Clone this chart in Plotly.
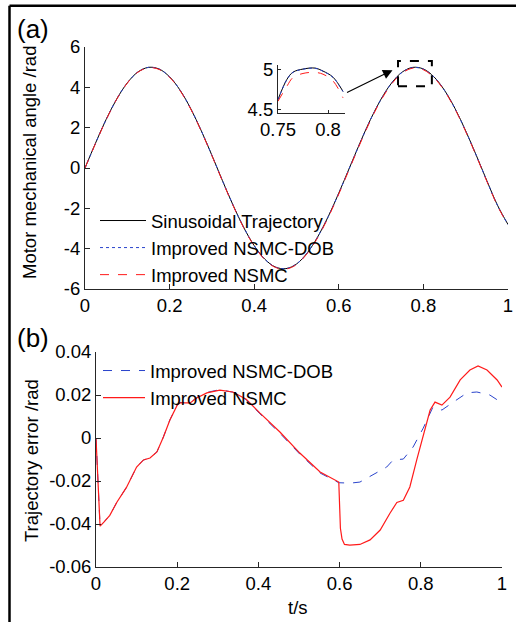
import plotly.graph_objects as go

W, H = 516, 622
def px(x):
    return x / W
def py(y):
    return 1 - y / H

FONT = "Liberation Sans, Arial, sans-serif"
FS = 18.5

# ---------------- panel (a) data ----------------
t_a = [0.0, 0.025, 0.05, 0.075, 0.1, 0.125, 0.15, 0.175, 0.2, 0.225,
       0.25, 0.275, 0.3, 0.325, 0.35, 0.375, 0.4, 0.425, 0.45, 0.475,
       0.5, 0.525, 0.55, 0.575, 0.6, 0.625, 0.65, 0.675, 0.7, 0.725,
       0.75, 0.775, 0.8, 0.825, 0.85, 0.875, 0.9, 0.925, 0.95, 0.975, 1.0]
traj_a = [0.00, 1.24, 2.41, 3.42, 4.22, 4.76, 4.99, 4.91, 4.52, 3.85,
          2.94, 1.84, 0.63, -0.63, -1.84, -2.94, -3.85, -4.52, -4.91, -4.99,
          -4.76, -4.22, -3.42, -2.41, -1.24, 0.00, 1.24, 2.41, 3.42, 4.22,
          4.76, 4.99, 4.91, 4.52, 3.85, 2.94, 1.84, 0.63, -0.63, -1.84, -2.80]
dob_a = [0.00, 1.23, 2.40, 3.42, 4.22, 4.76, 4.99, 4.91, 4.52, 3.85,
         2.94, 1.84, 0.63, -0.63, -1.84, -2.94, -3.85, -4.52, -4.91, -4.99,
         -4.76, -4.22, -3.42, -2.41, -1.25, -0.01, 1.23, 2.40, 3.41, 4.21,
         4.75, 4.98, 4.90, 4.51, 3.84, 2.93, 1.83, 0.62, -0.64, -1.85, -2.81]
nsmc_a = [0.00, 1.22, 2.39, 3.41, 4.21, 4.75, 4.97, 4.89, 4.50, 3.83,
          2.92, 1.82, 0.61, -0.65, -1.86, -2.96, -3.87, -4.54, -4.93, -5.01,
          -4.79, -4.25, -3.46, -2.45, -1.29, -0.05, 1.19, 2.36, 3.37, 4.17,
          4.71, 4.95, 4.87, 4.48, 3.82, 2.91, 1.81, 0.60, -0.66, -1.87, -2.83]

# inset data
t_in = [0.75, 0.759, 0.765, 0.775, 0.787, 0.795, 0.805, 0.815]
traj_in = [4.625, 4.875, 4.962, 5.000, 5.012, 4.975, 4.900, 4.725]
dob_in = [4.623, 4.873, 4.960, 4.998, 5.010, 4.973, 4.898, 4.723]
nsmc_in = [4.604, 4.791, 4.896, 4.946, 4.959, 4.937, 4.854, 4.646]

# ---------------- panel (b) data ----------------
t_nsmc = [0, 0.003, 0.01, 0.02, 0.034, 0.051, 0.075, 0.1, 0.117, 0.133,
          0.15, 0.166, 0.182, 0.2, 0.207, 0.232, 0.248, 0.273, 0.305, 0.337,
          0.37, 0.404, 0.453, 0.502, 0.552, 0.598, 0.6, 0.602, 0.606, 0.612,
          0.625, 0.65, 0.675, 0.7, 0.724, 0.741, 0.757, 0.773, 0.79, 0.806,
          0.823, 0.835, 0.852, 0.872, 0.897, 0.921, 0.941, 0.963, 0.988, 1.0]
err_nsmc = [0.0, -0.013, -0.041, -0.039, -0.036, -0.030, -0.023, -0.0135, -0.0102, -0.0093,
            -0.0065, 0.0005, 0.0084, 0.0153, 0.0163, 0.0163, 0.0186, 0.021, 0.0223, 0.0214,
            0.018, 0.0116, 0.0028, -0.007, -0.0158, -0.0205, -0.030, -0.042, -0.047, -0.0495,
            -0.0498, -0.0495, -0.0474, -0.0428, -0.035, -0.030, -0.029, -0.0228, -0.0102, 0.0005,
            0.013, 0.0167, 0.0153, 0.019, 0.027, 0.0316, 0.0335, 0.0316, 0.027, 0.0237]

t_dob = [0, 0.003, 0.01, 0.02, 0.034, 0.051, 0.075, 0.1, 0.117, 0.133,
         0.15, 0.166, 0.182, 0.2, 0.207, 0.232, 0.248, 0.273, 0.305, 0.337,
         0.37, 0.404, 0.453, 0.502, 0.552, 0.598, 0.626, 0.65, 0.682, 0.716,
         0.732, 0.757, 0.781, 0.806, 0.83, 0.852, 0.88, 0.914, 0.938, 0.97, 1.0]
err_dob = [0.0, -0.013, -0.041, -0.039, -0.036, -0.030, -0.023, -0.0135, -0.0102, -0.0093,
           -0.0065, 0.0005, 0.0084, 0.0153, 0.0165, 0.0165, 0.0188, 0.0212, 0.0225, 0.0213,
           0.0178, 0.0112, 0.0022, -0.0075, -0.0163, -0.0208, -0.021, -0.0205, -0.0172, -0.0135,
           -0.0102, -0.0098, -0.0042, 0.0046, 0.0144, 0.013, 0.0167, 0.021, 0.0214, 0.020, 0.0163]

BLACK = "#000000"
BLUE = "#2a44cc"
RED = "#ff1a1a"

fig = go.Figure()

# panel (a)
fig.add_trace(go.Scatter(x=t_a, y=traj_a, mode="lines", name="Sinusoidal Trajectory",
                         line=dict(color=BLACK, width=1, shape="spline"),
                         xaxis="x", yaxis="y", legend="legend"))
fig.add_trace(go.Scatter(x=t_a, y=dob_a, mode="lines", name="Improved NSMC-DOB",
                         line=dict(color=BLUE, width=1, dash="dot", shape="spline"),
                         xaxis="x", yaxis="y", legend="legend"))
fig.add_trace(go.Scatter(x=t_a, y=nsmc_a, mode="lines", name="Improved NSMC",
                         line=dict(color=RED, width=1, dash="dash", shape="spline"),
                         xaxis="x", yaxis="y", legend="legend"))

# inset
fig.add_trace(go.Scatter(x=t_in, y=traj_in, mode="lines", showlegend=False,
                         line=dict(color=BLACK, width=1, shape="spline"),
                         xaxis="x3", yaxis="y3"))
fig.add_trace(go.Scatter(x=t_in, y=dob_in, mode="lines", showlegend=False,
                         line=dict(color=BLUE, width=1, dash="dot", shape="spline"),
                         xaxis="x3", yaxis="y3"))
fig.add_trace(go.Scatter(x=t_in, y=nsmc_in, mode="lines", showlegend=False,
                         line=dict(color=RED, width=1, dash="dash", shape="spline"),
                         xaxis="x3", yaxis="y3"))

# panel (b)
fig.add_trace(go.Scatter(x=t_dob, y=err_dob, mode="lines", name="Improved NSMC-DOB",
                         line=dict(color=BLUE, width=1, dash="dash"),
                         xaxis="x2", yaxis="y2", legend="legend2"))
fig.add_trace(go.Scatter(x=t_nsmc, y=err_nsmc, mode="lines", name="Improved NSMC",
                         line=dict(color=RED, width=1.2),
                         xaxis="x2", yaxis="y2", legend="legend2"))

AX = dict(showline=True, linecolor="#262626", linewidth=1, ticks="inside",
          ticklen=5, tickcolor="#262626", showgrid=False, zeroline=False,
          tickfont=dict(family=FONT, size=FS, color="#000"), mirror=False,
          automargin=False)

fig.update_layout(
    width=W, height=H,
    margin=dict(l=0, r=0, t=0, b=0, pad=0, autoexpand=False),
    paper_bgcolor="white", plot_bgcolor="rgba(0,0,0,0)",
    font=dict(family=FONT, size=FS, color="#000"),
    xaxis=dict(AX, domain=[px(85), px(508)], range=[0, 1], anchor="y",
               tickvals=[0, 0.2, 0.4, 0.6, 0.8, 1],
               ticktext=["0", "0.2", "0.4", "0.6", "0.8", "1"]),
    yaxis=dict(AX, domain=[py(289), py(47)], range=[-6, 6], anchor="x",
               tickvals=[-6, -4, -2, 0, 2, 4, 6],
               ticktext=["-6", "-4", "-2", "0", "2", "4", "6"]),
    xaxis2=dict(AX, domain=[px(96), px(502)], range=[0, 1], anchor="y2",
                tickvals=[0, 0.2, 0.4, 0.6, 0.8, 1],
                ticktext=["0", "0.2", "0.4", "0.6", "0.8", "1"]),
    yaxis2=dict(AX, domain=[py(567), py(352)], range=[-0.06, 0.04], anchor="x2",
                tickvals=[-0.06, -0.04, -0.02, 0, 0.02, 0.04],
                ticktext=["-0.06", "-0.04", "-0.02", "0", "0.02", "0.04"]),
    xaxis3=dict(AX, domain=[px(278), px(345)], range=[0.75, 0.817], anchor="y3",
                tickvals=[0.75, 0.8], ticktext=["0.75", "0.8"], ticklen=3),
    yaxis3=dict(AX, domain=[py(113), py(65)], range=[4.46, 5.05], anchor="x3",
                tickvals=[4.5, 5], ticktext=["4.5", "5"], ticklen=3),
    legend=dict(x=px(95), y=py(202), xanchor="left", yanchor="top",
                bgcolor="rgba(0,0,0,0)", borderwidth=0, itemwidth=46,
                font=dict(family=FONT, size=FS, color="#000"), tracegroupgap=0),
    legend2=dict(x=px(98), y=py(352), xanchor="left", yanchor="top",
                 bgcolor="rgba(0,0,0,0)", borderwidth=0, itemwidth=42,
                 font=dict(family=FONT, size=FS, color="#000"), tracegroupgap=0),
    showlegend=True,
)

# outer frame (top + left edges)
fig.add_shape(type="line", xref="paper", yref="paper",
              x0=px(9.5), x1=px(516), y0=py(5.8), y1=py(5.8),
              line=dict(color="#000", width=2.5))
fig.add_shape(type="line", xref="paper", yref="paper",
              x0=px(9.5), x1=px(9.5), y0=py(5.8), y1=py(622),
              line=dict(color="#000", width=2.5))

# dashed zoom box
fig.add_shape(type="rect", xref="x", yref="y", x0=0.74, x1=0.82, y0=4.05, y1=5.3,
              line=dict(color="#000", width=2, dash="dash"))

annots = [
    dict(text="(a)", x=px(33), y=py(29), font=dict(size=26)),
    dict(text="(b)", x=px(33), y=py(338), font=dict(size=26)),
    dict(text="Motor mechanical angle /rad", x=px(30), y=py(163), textangle=-90),
    dict(text="Trajectory error /rad", x=px(31), y=py(461), textangle=-90),
    dict(text="t/s", x=px(298), y=py(607)),
]
for a in annots:
    fig.add_annotation(xref="paper", yref="paper", showarrow=False,
                       xanchor="center", yanchor="middle", **a)

fig.add_annotation(xref="x", yref="y", x=0.727, y=4.85, ax=-47, ay=23,
                   axref="pixel", ayref="pixel", text="", showarrow=True,
                   arrowhead=2, arrowsize=1.6, arrowwidth=1.2, arrowcolor="#000")

fig.write_html("out.html")
